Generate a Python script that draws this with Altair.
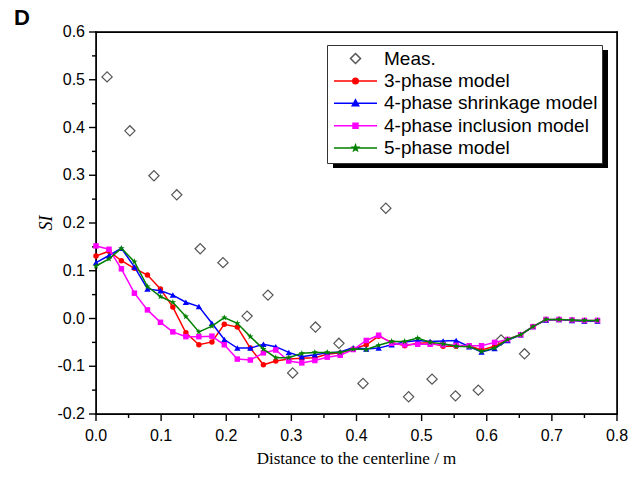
import altair as alt
import pandas as pd

# ---------------- data ----------------
x_model = [0.000, 0.020, 0.039, 0.059, 0.079, 0.099, 0.118, 0.138, 0.158, 0.178,
           0.197, 0.217, 0.237, 0.257, 0.276, 0.296, 0.316, 0.336, 0.355, 0.375,
           0.395, 0.415, 0.434, 0.454, 0.474, 0.494, 0.513, 0.533, 0.553, 0.573,
           0.592, 0.612, 0.632, 0.652, 0.671, 0.691, 0.711, 0.731, 0.750, 0.770]

three_phase = [0.131, 0.141, 0.121, 0.105, 0.091, 0.062, 0.024, -0.030, -0.055, -0.049,
               -0.012, -0.018, -0.062, -0.097, -0.089, -0.085, -0.083, -0.082, -0.075, -0.072,
               -0.064, -0.055, -0.037, -0.050, -0.057, -0.052, -0.051, -0.058, -0.058, -0.057,
               -0.066, -0.058, -0.044, -0.034, -0.017, -0.003, -0.002, -0.004, -0.005, -0.005]

shrinkage = [0.117, 0.132, 0.147, 0.108, 0.062, 0.058, 0.049, 0.034, 0.025, -0.010,
             -0.044, -0.062, -0.062, -0.054, -0.059, -0.071, -0.080, -0.076, -0.072, -0.070,
             -0.061, -0.064, -0.062, -0.055, -0.049, -0.046, -0.048, -0.047, -0.046, -0.059,
             -0.070, -0.063, -0.046, -0.034, -0.017, -0.003, -0.002, -0.004, -0.005, -0.005]

inclusion = [0.152, 0.145, 0.104, 0.053, 0.018, -0.008, -0.028, -0.038, -0.038, -0.037,
             -0.055, -0.085, -0.087, -0.072, -0.066, -0.089, -0.093, -0.088, -0.081, -0.077,
             -0.065, -0.046, -0.035, -0.052, -0.055, -0.054, -0.054, -0.055, -0.056, -0.057,
             -0.057, -0.050, -0.044, -0.034, -0.017, -0.002, -0.002, -0.003, -0.004, -0.004]

five_phase = [0.110, 0.125, 0.147, 0.119, 0.067, 0.046, 0.034, 0.004, -0.028, -0.016,
              0.002, -0.010, -0.038, -0.064, -0.082, -0.082, -0.073, -0.071, -0.071, -0.071,
              -0.064, -0.065, -0.056, -0.048, -0.048, -0.041, -0.050, -0.053, -0.058, -0.059,
              -0.069, -0.062, -0.044, -0.034, -0.017, -0.002, -0.002, -0.003, -0.004, -0.004]

meas_x = [0.017, 0.052, 0.089, 0.124, 0.160, 0.195, 0.232, 0.264, 0.302, 0.337,
          0.373, 0.410, 0.445, 0.480, 0.516, 0.552, 0.587, 0.622, 0.658]
meas_y = [0.506, 0.393, 0.299, 0.259, 0.146, 0.117, 0.005, 0.049, -0.114, -0.018,
          -0.052, -0.136, 0.231, -0.164, -0.127, -0.162, -0.150, -0.045, -0.074]

series_names = ["Meas.", "3-phase model", "4-phase shrinkage model",
                "4-phase inclusion model", "5-phase model"]
x_ticks = [0.0, 0.1, 0.2, 0.3, 0.4, 0.5, 0.6, 0.7, 0.8]
x_tick_labels = ["0.0", "0.1", "0.2", "0.3", "0.4", "0.5", "0.6", "0.7", "0.8"]
y_ticks = [-0.2, -0.1, 0.0, 0.1, 0.2, 0.3, 0.4, 0.5, 0.6]
y_tick_labels = ["-0.2", "-0.1", "0.0", "0.1", "0.2", "0.3", "0.4", "0.5", "0.6"]
x_minor = [0.05, 0.15, 0.25, 0.35, 0.45, 0.55, 0.65, 0.75]
y_minor = [-0.15, -0.05, 0.05, 0.15, 0.25, 0.35, 0.45, 0.55]
x_title = "Distance to the centerline / m"
y_title = "SI"

# ---------------- styling ----------------
colors = ["#555555", "#ff0000", "#0000ff", "#ff00ff", "#008000"]
legend_fills = ["#ffffff", "#ff0000", "#0000ff", "#ff00ff", "#008000"]
STAR = ("M0,-1L0.235,-0.324L0.951,-0.309L0.380,0.124L0.588,0.809L0,0.4"
        "L-0.588,0.809L-0.380,0.124L-0.951,-0.309L-0.235,-0.324Z")
STAR_SMALL = ("M0,-0.6L0.141,-0.194L0.571,-0.185L0.228,0.074L0.353,0.485L0,0.24"
              "L-0.353,0.485L-0.228,0.074L-0.571,-0.185L-0.141,-0.194Z")
LINE = "M-4.3,0L4.3,0"
legend_shapes = [
    "M0,-1L1,0L0,1L-1,0Z",
    LINE + "M-0.55,0A0.55,0.55,0,1,0,0.55,0A0.55,0.55,0,1,0,-0.55,0Z",
    LINE + "M0,-0.7L0.65,0.5L-0.65,0.5Z",
    LINE + "M-0.5,-0.5L0.5,-0.5L0.5,0.5L-0.5,0.5Z",
    LINE + STAR_SMALL,
]
point_shapes = ["diamond", "circle", "triangle-up", "square", STAR]
point_sizes = [105, 30, 40, 30, 45]

rows = []
for name, vals in zip(series_names[1:], [three_phase, shrinkage, inclusion, five_phase]):
    for xv, yv in zip(x_model, vals):
        rows.append({"x": xv, "y": yv, "series": name})
for xv, yv in zip(meas_x, meas_y):
    rows.append({"x": xv, "y": yv, "series": "Meas."})
df = pd.DataFrame(rows)

W, H = 521, 382
MAJOR_LEN, MINOR_LEN = 7, 4
LW = 1.4  # line width of frame and ticks, in pixels
xscale = alt.Scale(domain=[0, 0.8], nice=False, zero=False)
yscale = alt.Scale(domain=[-0.2, 0.6], nice=False, zero=False)
# half a line width, expressed in data units of each scale
HX = 0.8 / W * LW / 2
HY = 0.8 / H * LW / 2


def X(field="x"):
    return alt.X(f"{field}:Q", scale=xscale, axis=None)


def Y(field="y"):
    return alt.Y(f"{field}:Q", scale=yscale, axis=None)


base = alt.Chart(df)
one = pd.DataFrame({"k": [0]})
layers = []

# legend shadow (decoration, drawn beneath the legend box)
layers.append(alt.Chart(one).mark_rect(color="black").encode(
    x=alt.value(237), x2=alt.value(512), y=alt.value(18), y2=alt.value(136)))

# plot frame drawn as four thin filled rectangles
h = LW / 2
for (x1, x2, y1, y2) in [(-h, W + h, -h, h), (-h, W + h, H - h, H + h),
                         (-h, h, -h, H + h), (W - h, W + h, -h, H + h)]:
    layers.append(alt.Chart(one).mark_rect(color="black").encode(
        x=alt.value(x1), x2=alt.value(x2), y=alt.value(y1), y2=alt.value(y2)))

# tick marks as thin filled rectangles, placed through the scales
def x_tick_layer(values, length):
    return alt.Chart(pd.DataFrame({"v": values})).transform_calculate(
        a=f"datum.v - {HX}", b=f"datum.v + {HX}").mark_rect(color="black").encode(
        x=X("a"), x2=alt.X2("b"), y=alt.value(H), y2=alt.value(H + length))


def y_tick_layer(values, length):
    return alt.Chart(pd.DataFrame({"v": values})).transform_calculate(
        a=f"datum.v - {HY}", b=f"datum.v + {HY}").mark_rect(color="black").encode(
        y=Y("a"), y2=alt.Y2("b"), x=alt.value(-length), x2=alt.value(0))


layers += [x_tick_layer(x_ticks, MAJOR_LEN), y_tick_layer(y_ticks, MAJOR_LEN),
           x_tick_layer(x_minor, MINOR_LEN), y_tick_layer(y_minor, MINOR_LEN)]

# tick labels, placed through the scales
xlab = alt.Chart(pd.DataFrame({"v": x_ticks, "t": x_tick_labels})).mark_text(
    font="Liberation Sans", fontSize=16, color="black", align="center", baseline="top").encode(
    x=X("v"), y=alt.value(H + 14), text="t:N")
ylab = alt.Chart(pd.DataFrame({"v": y_ticks, "t": y_tick_labels})).mark_text(
    font="Liberation Sans", fontSize=16, color="black", align="right", baseline="middle").encode(
    y=Y("v"), x=alt.value(-11), text="t:N")
layers += [xlab, ylab]

# axis titles
xtit = alt.Chart(pd.DataFrame({"t": [x_title]})).mark_text(
    font="Liberation Serif", fontSize=17, color="black", align="center", baseline="middle").encode(
    x=alt.value(W / 2), y=alt.value(H + 45), text="t:N")
ytit = alt.Chart(pd.DataFrame({"t": [y_title]})).mark_text(
    font="Liberation Serif", fontSize=18, fontStyle="italic", color="black",
    align="center", baseline="middle", angle=270).encode(
    x=alt.value(-49), y=alt.value(H / 2), text="t:N")
layers += [xtit, ytit]

meas = base.transform_filter(alt.datum.series == "Meas.").mark_point(
    shape="diamond", size=point_sizes[0], filled=False, color=colors[0],
    strokeWidth=1.2, opacity=1).encode(x=X(), y=Y())
layers.append(meas)

for name, col, shp, sz in zip(series_names[1:], colors[1:], point_shapes[1:], point_sizes[1:]):
    sub = base.transform_filter(alt.datum.series == name)
    line = sub.mark_line(color=col, strokeWidth=1.5).encode(x=X(), y=Y())
    pts = sub.mark_point(shape=shp, size=sz, filled=True, color=col, opacity=1).encode(
        x=X(), y=Y())
    layers += [line, pts]

leg = alt.Legend(title=None, orient="none", legendX=231, legendY=13, padding=4,
                 fillColor="white", strokeColor="#333333",
                 labelFont="Liberation Sans", labelFontSize=19, labelColor="black",
                 labelLimit=400, symbolSize=100, symbolStrokeWidth=1.5,
                 rowPadding=2.4, labelOffset=19, symbolOffset=15)
legend_layer = base.transform_filter("datum.x < -1").mark_point(
    size=100, strokeWidth=1.5, filled=True, opacity=1).encode(
    x=X(), y=Y(),
    fill=alt.Fill("series:N", scale=alt.Scale(domain=series_names, range=legend_fills), legend=leg),
    stroke=alt.Stroke("series:N", scale=alt.Scale(domain=series_names, range=colors), legend=leg),
    shape=alt.Shape("series:N", scale=alt.Scale(domain=series_names, range=legend_shapes), legend=leg),
)
layers.append(legend_layer)

chart = alt.layer(*layers).properties(
    width=W, height=H,
    autosize=alt.AutoSizeParams(type="none"),
    padding={"left": 88, "top": 24, "right": 15, "bottom": 56},
    title=alt.TitleParams("D", anchor="start", frame="group", dx=-82, dy=9, offset=3,
                          font="Liberation Sans", fontSize=22, fontWeight="bold",
                          color="black"),
    background="white",
).configure_view(stroke="black", strokeWidth=1.2)

chart.save("out.html", embed_options={"renderer": "svg", "actions": False})
